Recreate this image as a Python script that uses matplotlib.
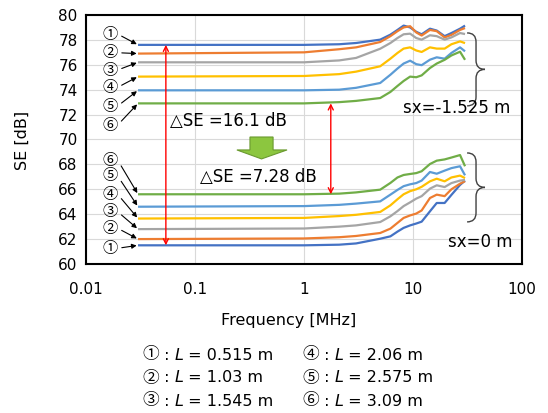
import matplotlib
matplotlib.use("Agg")
import matplotlib.pyplot as plt
from matplotlib.offsetbox import AnnotationBbox, HPacker, TextArea
from matplotlib.patches import Polygon, PathPatch
from matplotlib.path import Path

plt.rcParams["font.family"] = ["DejaVu Sans", "Noto Sans CJK JP"]
CJK = "Noto Sans CJK JP"

# frequency grid (MHz) shared by all curves
FREQ = [0.03, 1.0, 2.1, 3.0, 5.0, 6.2, 7.2, 8.2, 9.4, 10.7, 12.0, 14.3, 16.5, 19.5, 22.5, 27.0, 30.0]

# sx = -1.525 m group, curves 1..6
SE_UP_1 = [77.6, 77.6, 77.65, 77.75, 78.02, 78.42, 78.8, 79.15, 79.0, 78.65, 78.45, 78.9, 78.75, 78.3, 78.55, 78.9, 79.15]
SE_UP_2 = [76.9, 77.0, 77.25, 77.4, 77.83, 78.3, 78.7, 79.0, 79.1, 78.6, 78.35, 78.8, 78.7, 78.2, 78.4, 78.8, 78.95]
SE_UP_3 = [76.2, 76.2, 76.35, 76.55, 77.29, 77.75, 78.15, 78.45, 78.5, 78.15, 78.02, 78.37, 78.3, 78.02, 78.2, 78.55, 78.47]
SE_UP_4 = [75.05, 75.1, 75.25, 75.45, 75.88, 76.49, 76.95, 77.3, 77.4, 77.15, 77.03, 77.4, 77.3, 77.3, 77.65, 77.88, 77.74]
SE_UP_5 = [73.95, 73.95, 74.0, 74.15, 74.54, 75.2, 75.7, 76.1, 76.33, 76.05, 75.97, 76.41, 76.6, 76.49, 76.95, 77.4, 77.08]
SE_UP_6 = [72.9, 72.9, 73.0, 73.1, 73.33, 73.82, 74.3, 74.7, 75.05, 75.0, 75.15, 75.74, 76.1, 76.4, 76.75, 77.05, 76.4]

# sx = 0 m group, curves 1..6
SE_LO_1 = [61.5, 61.5, 61.55, 61.65, 62.03, 62.22, 62.6, 62.9, 63.1, 63.25, 63.4, 64.23, 64.9, 64.9, 65.55, 66.35, 66.7]
SE_LO_2 = [62.0, 62.05, 62.15, 62.25, 62.49, 62.84, 63.3, 63.7, 63.9, 64.05, 64.3, 65.3, 65.57, 65.45, 66.0, 66.45, 66.65]
SE_LO_3 = [62.8, 62.85, 63.0, 63.1, 63.37, 63.83, 64.25, 64.65, 64.95, 65.25, 65.45, 66.05, 66.32, 66.18, 66.5, 66.7, 66.75]
SE_LO_4 = [63.65, 63.7, 63.85, 63.95, 64.18, 64.71, 65.2, 65.6, 65.85, 66.0, 66.2, 66.64, 66.85, 66.64, 66.95, 67.1, 66.9]
SE_LO_5 = [64.6, 64.65, 64.75, 64.85, 65.03, 65.57, 65.95, 66.25, 66.4, 66.5, 66.7, 67.39, 67.25, 67.5, 67.7, 67.85, 67.12]
SE_LO_6 = [65.6, 65.6, 65.65, 65.75, 65.97, 66.51, 66.95, 67.15, 67.23, 67.3, 67.45, 68.03, 68.3, 68.4, 68.55, 68.75, 67.85]

CURVE_LABELS = ["①", "②", "③", "④", "⑤", "⑥"]
LENGTHS = ["0.515", "1.03", "1.545", "2.06", "2.575", "3.09"]

# label positions (freq, SE) of the circled numbers
LABEL_FREQ = 0.0166
LABEL_SE_UP = [78.47, 76.97, 75.58, 74.19, 72.69, 71.16]
LABEL_SE_LO = [61.26, 62.87, 64.2, 65.6, 67.07, 68.35]

# delta SE markers
DSE_BIG = (0.054, 77.6, 61.5, "16.1")
DSE_SMALL = (1.76, 72.9, 65.6, "7.28")

X_TICKS = [0.01, 0.1, 1, 10, 100]
X_TICKLABELS = ["0.01", "0.1", "1", "10", "100"]
Y_TICKS = list(range(60, 81, 2))

COLORS = ["#4472C4", "#ED7D31", "#A5A5A5", "#FFC000", "#5B9BD5", "#70AD47"]


def draw_brace(ax, x0, y_top, y_bot, w, r):
    ym = (y_top + y_bot) / 2
    xm = x0 + w / 2
    verts = [
        (x0, y_top), (xm, y_top), (xm, y_top - r),
        (xm, ym + r),
        (xm, ym), (x0 + w, ym),
        (xm, ym), (xm, ym - r),
        (xm, y_bot + r),
        (xm, y_bot), (x0, y_bot),
    ]
    codes = [Path.MOVETO, Path.CURVE3, Path.CURVE3, Path.LINETO,
             Path.CURVE3, Path.CURVE3, Path.CURVE3, Path.CURVE3,
             Path.LINETO, Path.CURVE3, Path.CURVE3]
    ax.add_patch(PathPatch(Path(verts, codes), transform=ax.transAxes, fill=False,
                           edgecolor="#404040", lw=1.0, clip_on=False))


def label_curves(ax, label_se, curves):
    for lab, ly, se in zip(CURVE_LABELS, label_se, curves):
        ax.annotate(lab, xy=(FREQ[0], se[0]), xytext=(LABEL_FREQ, ly),
                    ha="center", va="center", fontsize=11, family=CJK,
                    arrowprops=dict(arrowstyle="-|>", color="black", lw=0.8,
                                    mutation_scale=7, shrinkA=1, shrinkB=1,
                                    relpos=(1.0, 0.5)))


def delta_marker(ax, spec):
    f, top, bot, _ = spec
    ax.annotate("", xy=(f, bot), xytext=(f, top),
                arrowprops=dict(arrowstyle="<->", color="red", lw=1.0,
                                mutation_scale=9, shrinkA=0, shrinkB=0))


def legend_entry(fig, x, y, lab, length):
    parts = [
        TextArea(lab, textprops=dict(fontsize=12, family=CJK)),
        TextArea(" : ", textprops=dict(fontsize=11.5)),
        TextArea("L", textprops=dict(fontsize=11.5, style="italic")),
        TextArea(f" = {length} m", textprops=dict(fontsize=11.5)),
    ]
    box = HPacker(children=parts, align="baseline", pad=0, sep=0)
    ab = AnnotationBbox(box, (x, y), xycoords="figure fraction", box_alignment=(0, 0.5),
                        frameon=False, pad=0)
    fig.add_artist(ab)


def main():
    fig = plt.figure(figsize=(5.48, 4.13), dpi=100)
    ax = fig.add_axes([0.157, 0.3608, 0.7956, 0.6029])

    upper = [SE_UP_1, SE_UP_2, SE_UP_3, SE_UP_4, SE_UP_5, SE_UP_6]
    lower = [SE_LO_1, SE_LO_2, SE_LO_3, SE_LO_4, SE_LO_5, SE_LO_6]
    for se, c in zip(upper, COLORS):
        ax.plot(FREQ, se, color=c, lw=1.6, solid_capstyle="butt")
    for se, c in zip(lower, COLORS):
        ax.plot(FREQ, se, color=c, lw=1.6, solid_capstyle="butt")

    ax.set_xscale("log")
    ax.set_xlim(0.01, 100)
    ax.set_ylim(60, 80)
    ax.set_xticks(X_TICKS)
    ax.set_xticklabels(X_TICKLABELS)
    ax.minorticks_off()
    ax.set_yticks(Y_TICKS)
    ax.tick_params(axis="both", length=0, labelsize=11)
    ax.tick_params(axis="x", pad=13)
    ax.tick_params(axis="y", pad=6)
    ax.grid(True, color="#D9D9D9", lw=0.8)
    ax.set_axisbelow(True)
    for sp in ax.spines.values():
        sp.set_color("black")
        sp.set_linewidth(1.5)

    label_curves(ax, LABEL_SE_UP, upper)
    label_curves(ax, LABEL_SE_LO, lower)

    delta_marker(ax, DSE_BIG)
    delta_marker(ax, DSE_SMALL)
    ax.text(0.193, 0.574, f"△SE ={DSE_BIG[3]} dB", transform=ax.transAxes,
            ha="left", va="center", fontsize=12)
    ax.text(0.261, 0.349, f"△SE ={DSE_SMALL[3]} dB", transform=ax.transAxes,
            ha="left", va="center", fontsize=12)

    # green block arrow between the two groups
    arrow = Polygon([(0.376, 0.510), (0.429, 0.510), (0.429, 0.458), (0.461, 0.458),
                     (0.4025, 0.422), (0.346, 0.458), (0.376, 0.458)],
                    closed=True, transform=ax.transAxes, facecolor="#8CC63F",
                    edgecolor="#6A9A30", lw=0.8)
    ax.add_patch(arrow)

    draw_brace(ax, 0.874, 0.928, 0.635, 0.041, 0.036)
    draw_brace(ax, 0.874, 0.446, 0.169, 0.041, 0.036)
    ax.text(0.727, 0.627, "sx=-1.525 m", transform=ax.transAxes,
            ha="left", va="center", fontsize=12)
    ax.text(0.830, 0.088, "sx=0 m", transform=ax.transAxes,
            ha="left", va="center", fontsize=12)

    fig.text(22 / 548, 1 - 140 / 413, "SE [dB]", rotation=90, ha="center", va="center", fontsize=11.5)
    fig.text(289 / 548, 1 - 320 / 413, "Frequency [MHz]", ha="center", va="center", fontsize=11.5)

    cols = [142 / 548, 302 / 548]
    rows = [1 - 355 / 413, 1 - 378 / 413, 1 - 401 / 413]
    for i, (lab, length) in enumerate(zip(CURVE_LABELS, LENGTHS)):
        legend_entry(fig, cols[i // 3], rows[i % 3], lab, length)

    fig.savefig("out.png", dpi=100)
    plt.close(fig)


if __name__ == "__main__":
    main()
